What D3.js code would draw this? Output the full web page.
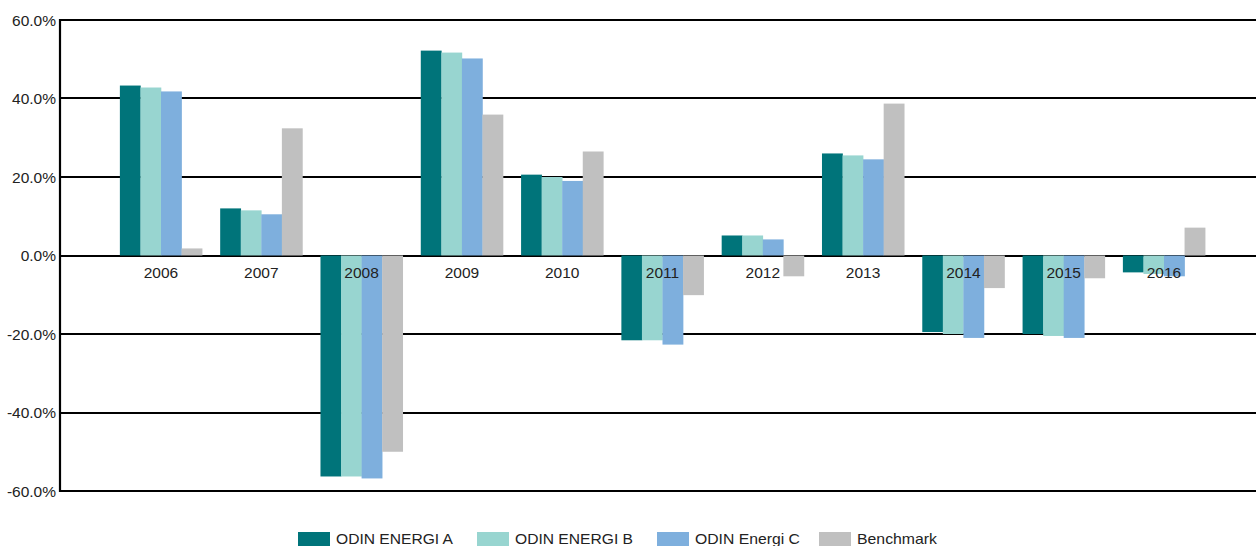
<!DOCTYPE html>
<html>
<head>
<meta charset="utf-8">
<script src="https://cdn.jsdelivr.net/npm/d3@7"></script>
<style>
  body { margin: 0; background: #fff; }
  text { font-family: "Liberation Sans", Arial, sans-serif; fill: #222; }
</style>
</head>
<body>
<svg width="1256" height="546"></svg>
<script>
// Data (annual returns, %)
const years = ["2006", "2007", "2008", "2009", "2010", "2011", "2012", "2013", "2014", "2015", "2016"];
const seriesNames = ["ODIN ENERGI A", "ODIN ENERGI B", "ODIN Energi C", "Benchmark"];
const colors = ["#00747a", "#98d5d0", "#7eafdd", "#c0c0c0"];

const energiA   = [43.3, 12.0, -56.3, 52.2, 20.6, -21.6, 5.1, 26.0, -19.5, -20.0, -4.3];
const energiB   = [42.8, 11.5, -56.3, 51.7, 20.0, -21.6, 5.1, 25.5, -20.0, -20.5, -4.7];
const energiC   = [41.8, 10.5, -56.8, 50.2, 19.0, -22.7, 4.1, 24.5, -21.0, -21.0, -5.3];
const benchmark = [1.8, 32.4, -50.0, 35.9, 26.5, -10.1, -5.3, 38.7, -8.3, -5.8, 7.1];

const yTicks = [-60, -40, -20, 0, 20, 40, 60];

const allSeries = [energiA, energiB, energiC, benchmark];

const svg = d3.select("svg");

const plotLeft = 60, plotRight = 1256, plotTop = 20, plotBottom = 491;

// scales
const x0 = d3.scaleBand()
    .domain(years)
    .range([110.85, 1214.15])
    .paddingInner(0.18)
    .paddingOuter(0.09);

const x1 = d3.scaleBand()
    .domain(seriesNames)
    .range([0, x0.bandwidth()]);

const y = d3.scaleLinear()
    .domain([-60, 60])
    .range([plotBottom, plotTop]);

// horizontal grid lines
svg.append("g")
    .selectAll("line")
    .data(yTicks)
    .enter().append("line")
    .attr("x1", plotLeft)
    .attr("x2", plotRight)
    .attr("y1", d => Math.round(y(d)))
    .attr("y2", d => Math.round(y(d)))
    .attr("stroke", "#000")
    .attr("stroke-width", 2.2);

// y tick labels
svg.append("g")
    .selectAll("text")
    .data(yTicks)
    .enter().append("text")
    .attr("x", 56)
    .attr("y", d => y(d))
    .attr("dy", "0.36em")
    .attr("text-anchor", "end")
    .style("font-size", "15.5px")
    .text(d => d.toFixed(1) + "%");

// bars
const rows = years.map((yr, i) => ({
    year: yr,
    values: seriesNames.map((s, j) => ({ name: s, value: allSeries[j][i], color: colors[j] }))
}));

svg.append("g")
    .selectAll("g")
    .data(rows)
    .enter().append("g")
    .attr("transform", d => `translate(${x0(d.year)},0)`)
    .selectAll("rect")
    .data(d => d.values)
    .enter().append("rect")
    .attr("x", d => x1(d.name))
    .attr("width", x1.bandwidth() + 0.3)
    .attr("y", d => y(Math.max(0, d.value)))
    .attr("height", d => Math.abs(y(d.value) - y(0)))
    .attr("fill", d => d.color);

// left axis line
svg.append("line")
    .attr("x1", plotLeft).attr("x2", plotLeft)
    .attr("y1", plotTop - 1).attr("y2", plotBottom + 1)
    .attr("stroke", "#000")
    .attr("stroke-width", 2.2);

// year labels (drawn over bars)
svg.append("g")
    .selectAll("text")
    .data(years)
    .enter().append("text")
    .attr("x", d => x0(d) + x0.bandwidth() / 2)
    .attr("y", 278)
    .attr("text-anchor", "middle")
    .style("font-size", "15.5px")
    .text(d => d);

// legend
const legendX = [298, 477, 657, 819];
const legend = svg.append("g")
    .selectAll("g")
    .data(seriesNames)
    .enter().append("g")
    .attr("transform", (d, i) => `translate(${legendX[i]},0)`);

legend.append("rect")
    .attr("x", 0)
    .attr("y", 532)
    .attr("width", 32)
    .attr("height", 14)
    .attr("fill", (d, i) => colors[i]);

legend.append("text")
    .attr("x", 38)
    .attr("y", 544)
    .style("font-size", "15px")
    .attr("textLength", (d, i) => [117, 118, 105, 80][i])
    .attr("lengthAdjust", "spacingAndGlyphs")
    .text(d => d);
</script>
</body>
</html>
